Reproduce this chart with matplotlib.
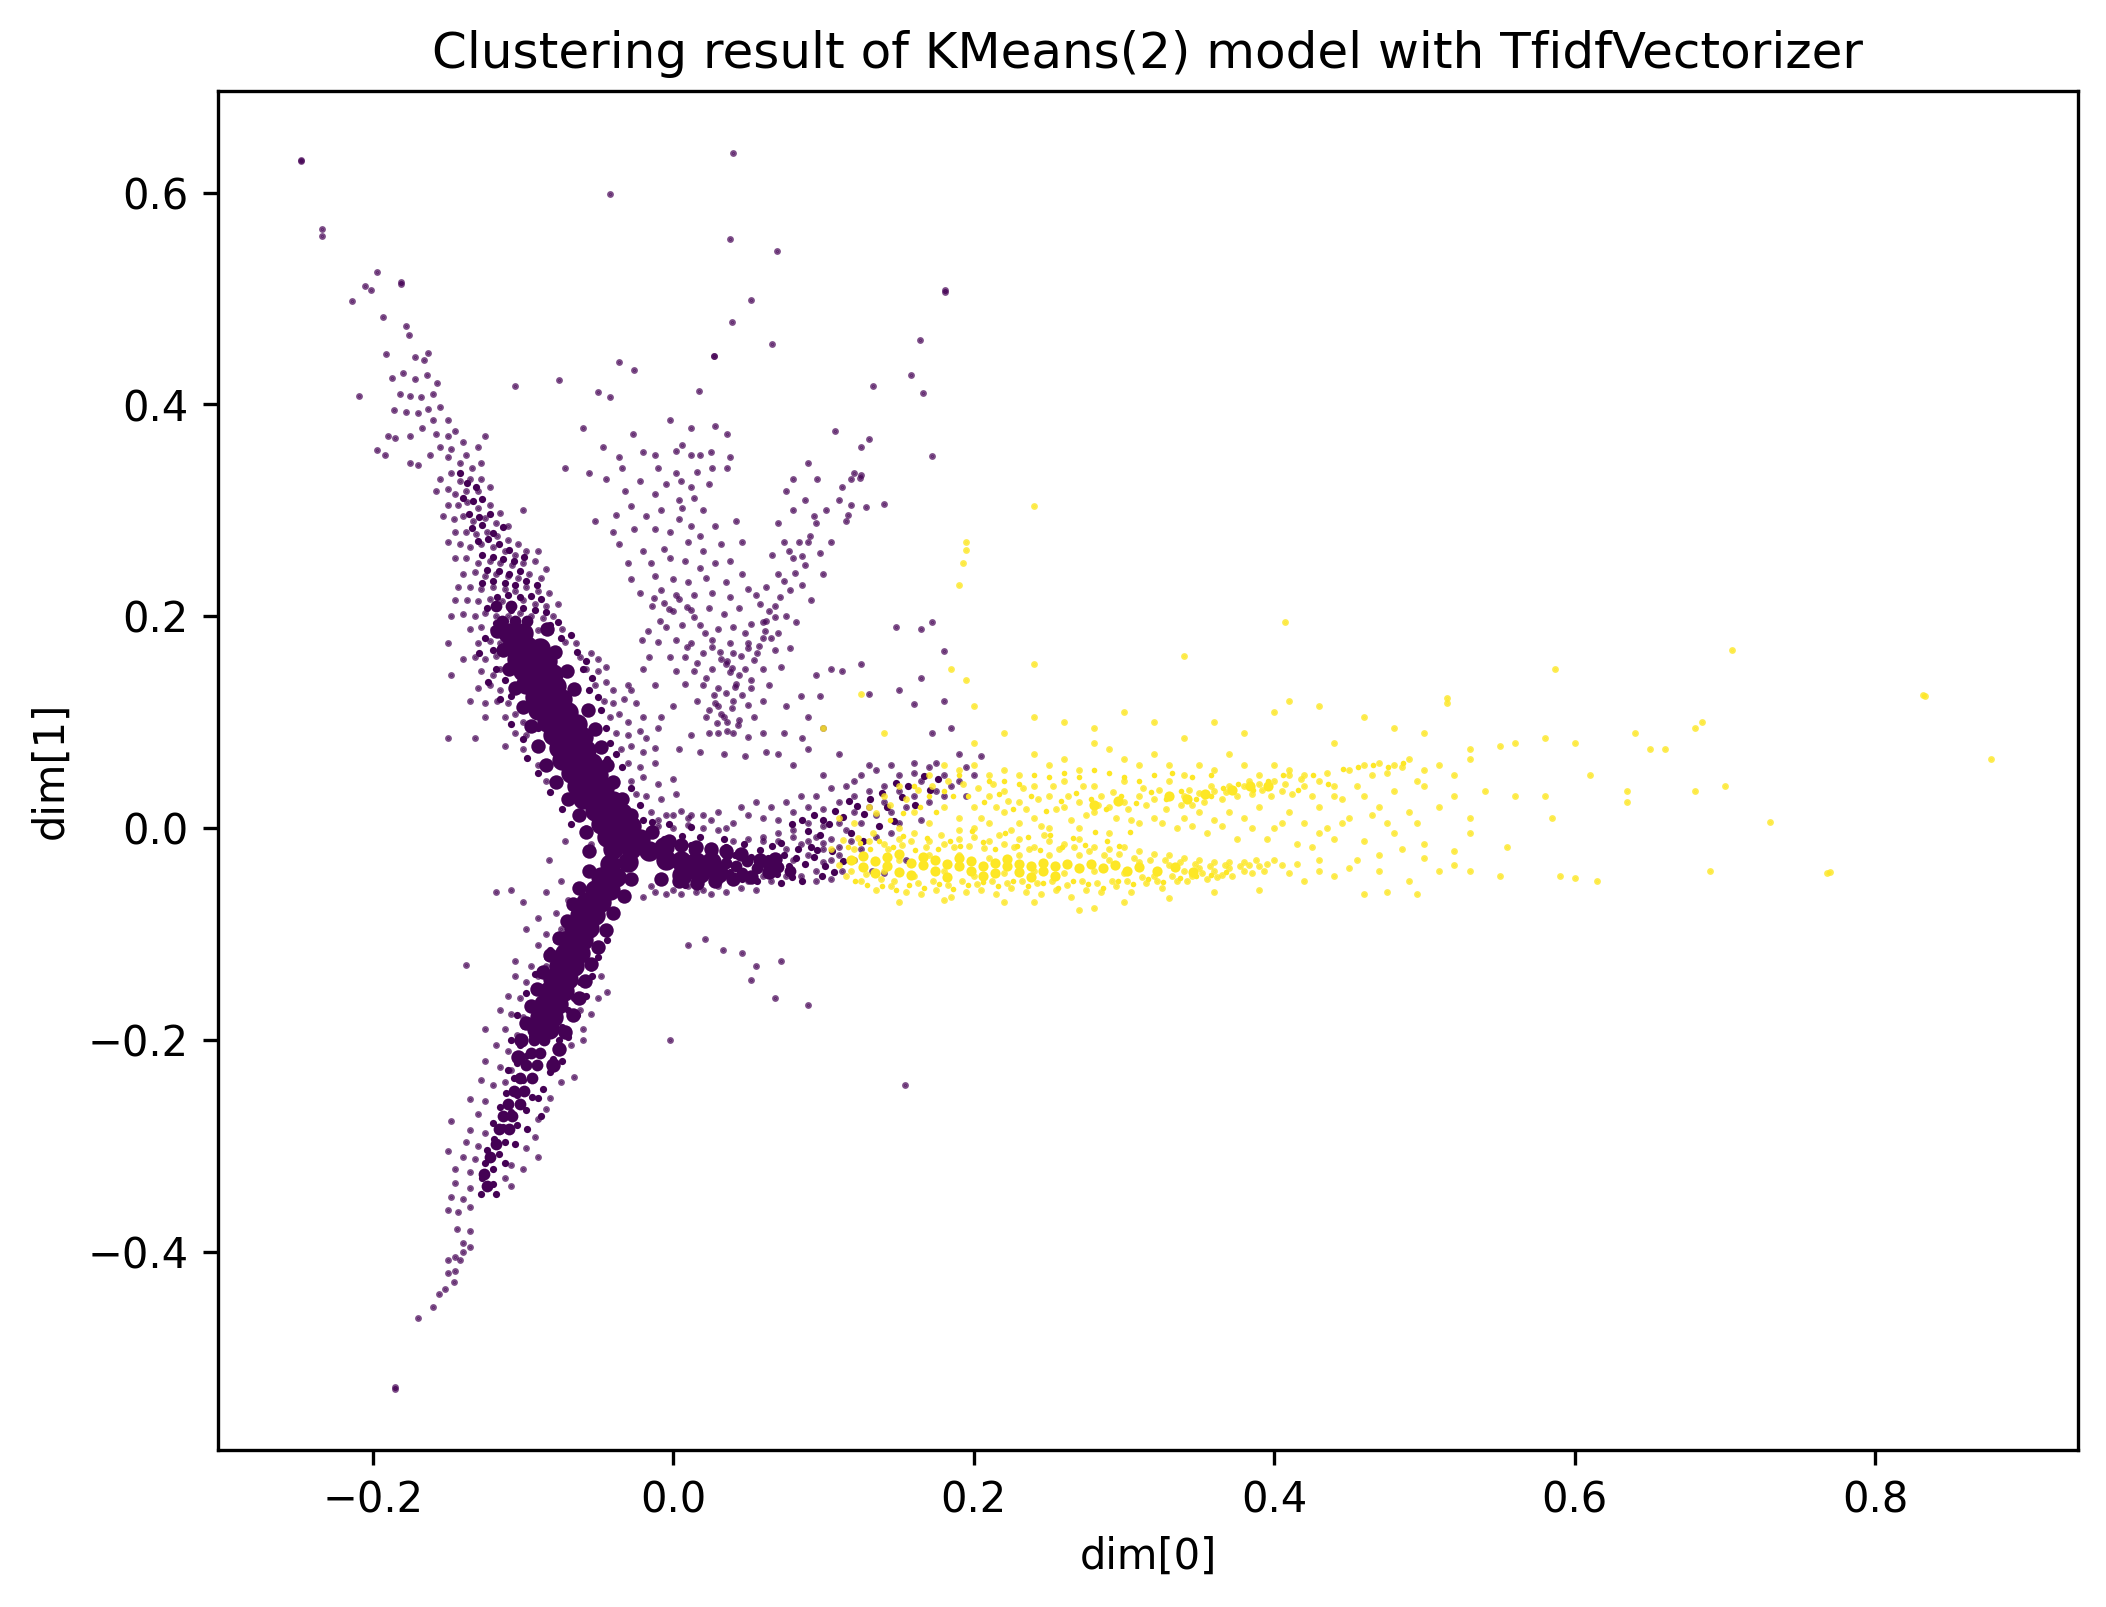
import numpy as np
import matplotlib.pyplot as plt

# points, (dim0, dim1)
outliers = [(-.2475,.631),(-.2475,.630),(-.234,.566),(-.234,.559),(.040,.637),(-.042,.599),(.038,.556),(.069,.545),
    (-.197,.525),(-.181,.516),(-.181,.514),(.181,.508),(.181,.506),(.052,.499),(-.214,.498),(-.201,.508),(-.205,.512),
    (-.193,.483),(-.178,.474),(-.176,.466),(.039,.478),(.066,.457),(.164,.461),(.027,.446),(.158,.428),(-.036,.44),
    (-.026,.433),(.133,.417),(-.105,.417),(-.076,.423),(.017,.413),(-.05,.412),(-.042,.407),(-.209,.408),(.166,.411),
    (-.197,.357),(.172,.351),(-.185,-.528),(-.185,-.529),(.154,-.242),(-.002,-.2),(.09,-.167),(.068,-.16),(-.138,-.129),
    (.055,-.13),(.046,-.118),(.033,-.115),(.021,-.105),(.052,-.143),(.01,-.11),(.072,-.125),(-.15,.085),(-.132,.085)]

upper_top = [(-.191,.448),(-.172,.445),(-.163,.449),(-.166,.442),(-.18,.43),(-.187,.425),(-.172,.424),(-.164,.428),
    (-.157,.42),(-.182,.41),(-.175,.408),(-.168,.407),(-.16,.41),(-.186,.395),(-.178,.393),(-.17,.392),(-.163,.396),
    (-.155,.398),(-.15,.385),(-.16,.385),(-.167,.378),(-.175,.37),(-.185,.368),(-.19,.37),(-.158,.372),(-.15,.37),
    (-.145,.375),(-.14,.365),(-.155,.36),(-.148,.358),(-.162,.352),(-.175,.345),(-.17,.343),(-.192,.352),(-.125,.37),
    (-.15,.35),(-.142,.345),(-.138,.352),(-.13,.36),(-.134,.34),(-.128,.345),(-.148,.335),(-.155,.33),(-.142,.328),
    (-.135,.33),(-.128,.33),(-.15,.32),(-.158,.318),(-.145,.315),(-.138,.318),(-.13,.318),(-.122,.322),(-.15,.305),
    (-.143,.305),(-.137,.308),(-.13,.302),(-.122,.305),(-.115,.298),(-.153,.295),(-.146,.292),(-.14,.295),(-.133,.29),
    (-.125,.293),(-.118,.288),(-.11,.285),(-.1,.3),(-.145,.28),(-.138,.28),(-.131,.278),(-.124,.28),(-.117,.276),
    (-.11,.272),(-.103,.268),(-.15,.27),(-.142,.268),(-.135,.265),(-.128,.268),(-.12,.265),(-.112,.262),(-.105,.258),
    (-.098,.262),(-.09,.262),(-.145,.255),(-.138,.255),(-.13,.25),(-.122,.252),(-.115,.25),(-.107,.248),(-.1,.25),
    (-.092,.252),(-.085,.245),(-.14,.24),(-.132,.242),(-.125,.238),(-.118,.24),(-.11,.238),(-.103,.236),(-.096,.24),
    (-.088,.236),(-.143,.228),(-.135,.228),(-.128,.226),(-.12,.228),(-.112,.226),(-.105,.224),(-.098,.228),
    (-.09,.224),(-.083,.222),(-.145,.215),(-.137,.215),(-.13,.214),(-.122,.216),(-.114,.214),(-.107,.212),(-.1,.215),
    (-.092,.212),(-.085,.21),(-.077,.212),(-.148,.2),(-.14,.202),(-.132,.2),(-.125,.203),(-.118,.2),(-.11,.2),
    (-.102,.203),(-.095,.2),(-.087,.198),(-.08,.2),(-.135,.188),(-.128,.19),(-.12,.188),(-.113,.19),
    (-.105,.19),(-.097,.188),(-.09,.187),(-.082,.186),(-.074,.188),(-.15,.175),(-.13,.175),(-.122,.177),
    (-.115,.175),(-.072,.176),(-.065,.175)]

upper_sides = [(-.14,.16),(-.132,.162),(-.125,.16),(-.118,.163),(-.062,.162),(-.055,.165),(-.05,.16),(-.148,.145),
    (-.128,.148),(-.12,.145),(-.115,.15),(-.058,.15),(-.05,.148),(-.045,.152),(-.13,.132),(-.122,.135),(-.115,.13),
    (-.052,.135),(-.045,.138),(-.04,.13),(-.03,.135),(-.135,.12),(-.125,.118),(-.117,.12),(-.11,.118),
    (-.046,.12),(-.04,.118),(-.033,.122),(-.025,.118),(-.125,.105),(-.112,.105),(-.105,.108),(-.1,.1),(-.042,.105),
    (-.036,.108),(-.03,.1),(-.02,.105),(-.105,.09),(-.098,.088),(-.038,.09),(-.03,.088),(-.022,.092),
    (-.112,.078),(-.1,.075),(-.035,.075),(-.028,.078),(-.02,.072),(-.012,.076),(-.09,.06),
    (-.03,.062),(-.022,.058),(-.012,.062),(-.085,.045),(-.078,.042),(-.028,.045),
    (-.02,.048),(-.01,.042),(.0,.046),(-.07,.03),(-.025,.032),(-.018,.03),(-.008,.028),
    (.002,.032),(-.062,.015),(-.015,.015),(-.005,.012),(.005,.016),(.012,.012),(-.058,.0),
    (-.01,.002),(.0,.0),(.01,.003),(.02,.0),(-.072,-.012),(-.055,-.015),(.025,.008),(.03,-.002)]

# the open cloud above the right arm
cloud = [(.027,.446),(-.002,.385),(.012,.378),(-.027,.372),(.028,.38),(.006,.362),(.018,.352),(.036,.372),(-.036,.35),
    (-.02,.355),(-.012,.352),(.002,.356),(.012,.352),(.025,.355),(.038,.35),(-.06,.378),(-.047,.36),(-.072,.34),
    (-.056,.335),(-.034,.34),(-.01,.34),(.002,.335),(.016,.336),(.026,.34),(.036,.34),(-.045,.33),(-.022,.328),
    (-.005,.325),(.005,.328),(.012,.322),(.024,.325),(-.032,.318),(-.028,.304),(-.012,.315),(.004,.31),(.014,.312),
    (.02,.3),(.006,.302),(-.008,.3),(-.018,.295),(-.038,.296),(-.052,.29),(-.04,.28),(-.026,.282),(-.012,.282),
    (-.002,.28),(.004,.292),(.012,.285),(.018,.276),(.028,.285),(.042,.29),(-.036,.268),(-.02,.262),(-.006,.264),
    (.01,.27),(.02,.262),(.032,.268),(.046,.27),(-.03,.25),(-.015,.25),(-.002,.255),(.008,.252),(.018,.246),
    (.028,.25),(.038,.252),(-.028,.235),(-.012,.238),(.0,.235),(.01,.232),(.022,.236),(.035,.232),(.046,.24),
    (-.022,.222),(-.008,.225),(.002,.22),(.014,.22),(.026,.222),(.038,.218),(.05,.226),(-.014,.21),(.0,.205),
    (.012,.206),(.024,.208),(.034,.202),(.044,.208),(.058,.212),(-.005,.19),(.006,.192),(.018,.192),(.03,.188),
    (.04,.19),(.052,.193),(.062,.196),(-.01,.176),(.002,.178),(.012,.175),(.026,.178),(.038,.175),(.05,.175),
    (.06,.18),(.07,.184),(-.002,.162),(.008,.162),(.02,.165),(.032,.16),(.045,.163),(.056,.165),(.068,.168),
    (.078,.17),(.002,.148),(.014,.148),(.026,.15),(.038,.147),(.048,.15),(.06,.15),(.072,.152),(.008,.136),
    (.02,.135),(.03,.132),(.042,.136),(.052,.132),(.064,.135),(.016,.12),(.028,.118),(.04,.12),(.05,.116),
    (.06,.12),(.022,.105),(.034,.105),(.044,.102),(.054,.105),(.03,.09),(.04,.09),(.05,.086),(.012,.088),(-.01,.095),
    (.004,.075),(.018,.072),(.034,.07),(.048,.068),(.062,.072),(.074,.09),(.086,.085),(.09,.105),(.075,.115),
    (.098,.125),(.105,.15),(.112,.148),(.125,.155),(.13,.127),(.15,.13),(.16,.117),(.172,.09),(.185,.095),
    (.19,.07),(.2,.05),(.205,.068),(.18,.12),(.165,.142),(.148,.19),(.165,.188),(.172,.195),(.18,.167),
    (.09,.27),(.095,.288),(.102,.3),(.11,.31),(.118,.33),(.125,.333),(.125,.36),(.13,.367),(.108,.375),(.118,.305),
    (.128,.303),(.14,.306),(.115,.29),(.105,.27),(.098,.26),(.088,.248),(.08,.255),(.07,.24),(.078,.225),(.086,.23),
    (.092,.215),(.062,.228),(.068,.21),(.075,.2),(.082,.195),(.06,.195),(.065,.18),(.052,.14),(.09,.345),(.08,.33),
    (.075,.318),(.096,.33),(.07,.288),(.08,.3),(.088,.31),(.094,.295),(.074,.27),(.084,.27),(.066,.258),(.1,.24),
    (.055,.22),(.04,.165),(.03,.115),(.036,.1),(.024,.09),(.05,.17),(.035,.155),(.022,.142),(-.02,.15),(-.028,.13),
    (-.012,.135),(.0,.115),(-.008,.105),(-.018,.085),(.06,.09),(.07,.07),(.08,.06),(.09,.075),(.1,.05),(.11,.07),
    (.12,.045),(.13,.06),(.095,.145),(.085,.125),(.1,.095)]

# tight clumps inside the cloud
cloud_clumps = [(-.013,.217),(-.006,.213),(-.003,.207),(.004,.216),(.009,.209),(-.009,.196),(.014,.199),(-.017,.186),
    (.021,.184),(.026,.171),(.031,.166),(.036,.158),(.039,.151),(.044,.145),(.041,.133),(.035,.128),(.027,.126),
    (.024,.112),(.032,.108),(.039,.113),(.046,.126),(.054,.159),(.057,.172),(.061,.186),(.064,.205),(.071,.218),
    (.068,.199),(.074,.233),(.081,.241),(.077,.262),(.086,.257),(.091,.276),(.112,.322),(.12,.335),(.124,.331),
    (.116,.296),(.029,.099),(.036,.092),(.043,.097),(.016,.156),(.009,.171),(-.021,.178),(-.016,.162),(.048,.184)]

# right arm, above and below the solid part
right_arm = [(.03,.015),(.04,.005),(.05,.012),(.06,.01),(.07,.008),(.08,.015),(.09,.02),(.1,.018),(.11,.025),(.12,.03),
    (.13,.035),(.14,.04),(.15,.05),(.16,.052),(.17,.058),(.165,.045),(.18,.05),(.185,.04),(.175,.035),(.16,.03),
    (.15,.035),(.14,.025),(.13,.02),(.12,.015),(.11,.005),(.1,.002),(.09,.005),(.08,-.002),(.07,-.005),(.06,-.008),
    (.05,-.01),(.04,-.012),(.035,.0),(.095,-.008),(.085,-.015),(.075,-.02),(.105,-.01),(.115,-.002),(.125,.005),
    (.135,.012),(.145,.015),(.155,.02),(.17,.025),(.18,.03),(.19,.045),(.195,.03),(.07,-.03),(.08,-.03),(.09,-.025),
    (.1,-.02),(.105,-.03),(.095,-.04),(.085,-.045),(.075,-.045),(.065,-.05),(.055,-.058),(.045,-.056),(.035,-.06),
    (.025,-.062),(.015,-.06),(.005,-.062),(-.005,-.062),(-.012,-.06),(-.02,-.065),(.095,-.05),(.105,-.048),(.1,-.032),
    (.11,-.025),(.112,-.04),(.06,-.012),(.07,-.012),(.08,-.008),(.09,-.012),(.1,-.014),(.11,-.018),(.118,-.012),
    (.125,-.02),(.135,-.008),(.145,-.005),(.12,-.03),(.132,-.04),(.14,-.042),(.155,-.03),(.15,.005),(.165,.008),
    (.065,.02),(.055,.025),(.045,.02),(.075,.025),(.085,.03),(.095,.03),(.105,.038),(.115,.04),(.125,.05),(.135,.055),
    (.145,.06),(.16,.062),(.175,.062),(.195,.058),(-.015,-.055),(.0,-.058),(.01,-.055),(.02,-.058),(.03,-.055),
    (.04,-.05),(.05,-.05),(.06,-.045),(-.01,.008),(.0,.012),(.01,.01),(.02,.012)]

right_arm_mottled = [(.035,-.018),(.047,-.015),(.058,-.021),(.066,-.017),(.074,-.025),(.083,-.02),(.088,-.034),(.094,-.027),
    (.101,-.036),(.077,-.036),(.069,-.043),(.092,-.018),(.098,-.006),(.104,.004),(.113,.011),(.122,.021),(.131,.028),
    (.139,.033),(.148,.043),(.156,.04),(.167,.049),(.176,.046),(.086,.008),(.079,.004),(.094,.012),(.108,.016),(.046,-.048),
    (.03,-.048),(.016,-.05),(.002,-.05),(-.008,-.05),(.056,-.05),(.063,-.028),(.041,-.025),(.024,-.018),(.012,-.016),
    (.0,-.014),(-.006,-.01),(.106,-.022),(.099,-.045),(.086,-.05),(.072,-.052),(.052,-.027),(.062,-.041),(.082,-.028),
    (.072,-.014),(.09,-.003),(.1,.008),(.117,.026),(.127,.013),(.142,.02),(.152,.029),(.161,.022),(.171,.036),(.107,-.041),
    (.113,-.031),(.096,-.021),(.079,-.046),(.051,-.044),(.038,-.041),(.02,-.046),(.008,-.054),(.034,-.01),(.018,-.008),
    (.006,-.007),(-.014,.0),(-.003,.004),(.012,.001),(-.02,.008),(.118,-.005),(.126,-.012),(.137,.002),(.147,.007)]

lower_arm = [(-.118,-.06),(-.108,-.058),(-.1,-.07),(-.083,-.03),(-.075,-.05),(-.085,-.06),(-.07,-.068),(-.078,-.08),
    (-.09,-.085),(-.098,-.095),(-.085,-.1),(-.075,-.095),(-.08,-.118),(-.09,-.11),(-.105,-.125),(-.095,-.13),
    (-.085,-.13),(-.105,-.14),(-.098,-.145),(-.09,-.14),(-.055,-.132),(-.048,-.14),(-.044,-.155),
    (-.05,-.16),(-.055,-.175),(-.06,-.19),(-.062,-.172),(-.11,-.158),(-.102,-.16),(-.115,-.172),
    (-.108,-.175),(-.1,-.178),(-.125,-.19),(-.112,-.19),(-.104,-.195),(-.06,-.2),(-.068,-.205),(-.118,-.205),
    (-.11,-.21),(-.125,-.22),(-.115,-.225),(-.108,-.228),(-.066,-.235),(-.128,-.238),(-.12,-.242),(-.112,-.24),
    (-.075,-.24),(-.082,-.255),(-.135,-.256),(-.125,-.258),(-.085,-.265),(-.13,-.27),(-.09,-.275),
    (-.148,-.276),(-.135,-.285),(-.125,-.288),(-.092,-.292),(-.138,-.296),(-.13,-.3),(-.098,-.302),(-.09,-.31),
    (-.15,-.305),(-.14,-.31),(-.132,-.312),(-.108,-.318),(-.1,-.322),(-.145,-.322),(-.135,-.325),(-.112,-.33),
    (-.145,-.335),(-.135,-.34),(-.108,-.338),(-.148,-.348),(-.14,-.35),(-.15,-.36),(-.143,-.362),(-.135,-.358),
    (-.144,-.378),(-.135,-.38),(-.14,-.392),(-.135,-.395),(-.15,-.408),(-.145,-.405),(-.15,-.42),(-.145,-.418),
    (-.152,-.435),(-.146,-.428),(-.156,-.44),(-.16,-.452),(-.17,-.462),(-.14,-.4),(-.142,-.408)]

# speckled stretches of the arms, many marks overlapping
mottled = [(-.142,.335),(-.137,.326),(-.131,.322),(-.14,.312),(-.133,.309),(-.127,.311),(-.136,.297),(-.129,.294),
    (-.122,.297),(-.134,.283),(-.127,.286),(-.12,.279),(-.113,.284),(-.13,.271),(-.123,.273),(-.116,.268),(-.109,.263),
    (-.127,.258),(-.12,.256),(-.113,.254),(-.106,.252),(-.099,.256),(-.124,.244),(-.116,.243),(-.109,.24),(-.102,.243),
    (-.127,.231),(-.12,.233),(-.112,.231),(-.105,.23),(-.098,.233),(-.091,.23),(-.117,.218),(-.11,.22),(-.102,.218),
    (-.095,.219),(-.088,.216),(-.124,.208),(-.108,.206),(-.1,.208),(-.092,.206),(-.085,.204),(-.118,.194),(-.112,.196),
    (-.082,.192),(-.077,.195),(-.075,.18),(-.068,.182),(-.125,.18),(-.12,.168),(-.064,.166),(-.058,.158),(-.112,.14),
    (-.108,.125),(-.1,.112),(-.09,.095),(-.048,.112),(-.045,.095),(-.042,.08),(-.129,.165),(-.118,.15),(-.123,.138),
    (-.115,.122),(-.108,.098),(-.1,.084),(-.097,.066),(-.09,.052),(-.082,.034),(-.074,.018),(-.068,.004),(-.056,.13),
    (-.05,.124),(-.054,.142),(-.06,.15),(-.038,.07),(-.034,.058),(-.028,.038),(-.022,.022),(-.014,.006),(-.044,.065),
    (-.082,-.115),(-.078,-.128),(-.087,-.137),(-.08,-.142),(-.091,-.15),(-.085,-.158),(-.096,-.166),(-.062,-.145),
    (-.066,-.16),(-.07,-.172),(-.074,-.188),(-.099,-.187),(-.094,-.196),(-.102,-.205),(-.076,-.2),(-.098,-.215),(-.08,-.218),
    (-.104,-.222),(-.082,-.23),(-.106,-.236),(-.1,-.238),(-.087,-.246),(-.111,-.25),(-.104,-.252),(-.094,-.254),(-.115,-.263),
    (-.108,-.268),(-.098,-.266),(-.12,-.278),(-.113,-.282),(-.104,-.28),(-.097,-.284),(-.119,-.293),(-.112,-.296),(-.105,-.298),
    (-.124,-.304),(-.116,-.308),(-.125,-.316),(-.12,-.322),(-.112,-.316),(-.127,-.33),(-.12,-.336),(-.128,-.345),
    (-.118,-.345),(-.122,-.312),(-.074,-.22),(-.07,-.197),(-.064,-.176),(-.058,-.158),(-.054,-.14),(-.05,-.122),(-.044,-.106),
    (-.078,-.106),(-.084,-.122),(-.092,-.138),(-.098,-.156),(-.104,-.176),(-.108,-.2),(-.11,-.228),(-.088,-.272),(-.09,-.255)]

# solid parts of the arms, too dense to tell single points apart
arm_fill = [(-.04,-.02),(-.028,-.02),(-.016,-.022),(-.044,-.008),(-.032,-.008),(-.022,-.01),(-.048,.004),(-.038,.004),
    (-.028,.002),(-.052,.016),(-.042,.016),(-.034,.014),(-.06,.028),(-.05,.028),(-.04,.026),(-.064,.04),(-.054,.04),(-.046,.038),
    (-.068,.052),(-.058,.052),(-.05,.05),(-.074,.064),(-.064,.064),(-.054,.062),(-.076,.076),(-.066,.076),(-.058,.074),
    (-.08,.088),(-.07,.088),(-.06,.086),(-.084,.1),(-.074,.1),(-.064,.098),(-.09,.112),(-.08,.112),(-.07,.11),
    (-.092,.124),(-.082,.124),(-.074,.122),(-.098,.136),(-.088,.136),(-.078,.134),(-.1,.148),(-.09,.148),(-.08,.146),
    (-.104,.16),(-.094,.16),(-.084,.158),(-.107,.172),(-.097,.172),(-.089,.17),(-.11,.184),(-.1,.184),
    (-.042,-.034),(-.03,-.032),(-.048,-.046),(-.038,-.046),(-.052,-.058),(-.042,-.058),(-.058,-.07),(-.048,-.07),
    (-.062,-.082),(-.052,-.082),(-.066,-.094),(-.056,-.094),(-.07,-.106),(-.06,-.106),(-.072,-.118),(-.062,-.118),
    (-.076,-.13),(-.066,-.13),(-.08,-.142),(-.07,-.142),(-.083,-.154),(-.073,-.154),(-.086,-.166),(-.077,-.166),
    (-.089,-.178),(-.08,-.178),(-.091,-.19),(-.083,-.19),
    (-.005,-.03),(.005,-.031),(.015,-.032),(.025,-.032),(-.006,-.018),(.006,-.044),(.018,-.042),(.03,-.042)]

# the same arms, their outer edges
arm_edge = [(-.117,.186),(-.084,.188),(-.113,.168),(-.079,.166),(-.109,.15),(-.071,.148),(-.105,.132),(-.066,.131),
    (-.1,.114),(-.057,.112),(-.095,.096),(-.052,.094),(-.09,.078),(-.048,.077),(-.085,.06),(-.044,.06),(-.078,.044),
    (-.04,.044),(-.07,.028),(-.034,.028),(-.063,.012),(-.028,.012),(-.058,-.004),(-.014,-.004),(-.056,-.022),(-.003,-.012),
    (-.056,-.04),(-.028,-.048),(-.063,-.056),(-.033,-.064),(-.067,-.072),(-.04,-.08),(-.071,-.088),(-.045,-.096),
    (-.076,-.104),(-.05,-.112),(-.082,-.12),(-.055,-.128),(-.087,-.136),(-.059,-.144),(-.091,-.152),(-.063,-.16),
    (-.095,-.168),(-.067,-.176),(-.098,-.184),(-.072,-.192),(-.101,-.2),(-.076,-.208),(-.103,-.216),(-.08,-.224),
    (.005,-.016),(.015,-.018),(.025,-.02),(.035,-.022),(.045,-.024),(-.008,-.048),(.004,-.05),(.016,-.052),(.028,-.05),
    (.04,-.048),(.052,-.046),(.058,-.03),(.068,-.029),(.064,-.041)]

core_small = [(.035,-.033),(.042,-.036),(.049,-.031),(.056,-.038),(.063,-.035),(.07,-.037),(.078,-.04),(.036,-.024),
    (.046,-.042),(.026,-.022),(.014,-.021),(-.114,.196),(-.105,.196),(-.097,.196),(-.118,.21),(-.108,.21),
    (-.093,-.2),(-.086,-.2),(-.095,-.212),(-.089,-.212),(-.098,-.224),(-.091,-.224),(-.102,-.236),(-.094,-.236),
    (-.106,-.248),(-.099,-.248),(-.11,-.26),(-.102,-.26),(-.113,-.272),(-.107,-.272),(-.116,-.284),(-.109,-.284),
    (-.118,-.298),(-.122,-.31),(-.126,-.326),(-.124,-.338)]

yellow_band_low = [(.105,-.02),(.11,-.035),(.115,-.045),(.12,-.02),(.125,-.05),(.13,-.012),(.135,-.058),(.14,-.015),(.145,-.055),
    (.15,-.01),(.155,-.06),(.16,-.005),(.165,-.062),(.17,-.012),(.175,-.058),(.18,-.015),(.185,-.065),(.19,-.01),(.195,-.06),
    (.2,-.008),(.205,-.058),(.21,-.012),(.215,-.062),(.22,-.015),(.225,-.056),(.23,-.01),(.235,-.06),(.24,-.018),(.245,-.062),
    (.25,-.012),(.255,-.058),(.26,-.015),(.265,-.065),(.27,-.01),(.275,-.058),(.28,-.018),(.285,-.06),(.29,-.02),(.295,-.055),
    (.3,-.018),(.305,-.06),(.31,-.022),(.315,-.052),(.32,-.024),(.325,-.056),(.33,-.025),(.335,-.05),(.34,-.028),(.345,-.045),
    (.35,-.03),(.355,-.048),(.36,-.032),(.365,-.044),(.37,-.038),(.38,-.032),(.385,-.042),(.39,-.036),(.4,-.03),(.41,-.042),
    (.42,-.05),(.43,-.04),(.44,-.045),(.45,-.038),(.46,-.062),(.47,-.04),(.475,-.06),(.49,-.05),(.495,-.062),(.51,-.04),
    (.52,-.035),(.53,-.04),(.55,-.045),(.59,-.045),(.6,-.047),(.615,-.05),(.69,-.04),(.768,-.042),(.77,-.041),
    (.27,-.077),(.18,-.068),(.24,-.07),(.3,-.07),(.33,-.066),(.36,-.06),(.39,-.058),(.28,-.075),(.22,-.07),(.15,-.07),
    (.12,-.03),(.14,-.04),(.15,-.03),(.16,-.045),(.17,-.025),(.18,-.04),(.19,-.025),(.2,-.045),(.21,-.028),(.22,-.042),
    (.23,-.025),(.24,-.04),(.25,-.025),(.26,-.042),(.27,-.025),(.28,-.04),(.29,-.03),(.3,-.042),(.31,-.032),(.32,-.045),
    (.33,-.035),(.34,-.04),(.35,-.038),(.36,-.04),(.37,-.032),(.38,-.04),(.395,-.034),(.405,-.035),(.415,-.034),(.43,-.03),
    (.455,-.03),(.47,-.025),(.485,-.02),(.5,-.028)]

yellow_band_high = [(.11,.01),(.12,.005),(.13,.02),(.14,.03),(.15,.04),(.17,.05),(.18,.06),(.19,.055),(.2,.06),(.21,.05),
    (.22,.055),(.23,.05),(.24,.07),(.25,.06),(.26,.065),(.27,.055),(.28,.08),(.29,.075),(.3,.065),(.31,.06),(.32,.07),
    (.33,.06),(.34,.05),(.35,.06),(.36,.055),(.37,.07),(.38,.06),(.39,.05),(.4,.06),(.41,.055),(.42,.05),(.43,.045),
    (.44,.04),(.45,.055),(.46,.06),(.47,.062),(.48,.06),(.49,.065),(.5,.055),(.51,.06),(.52,.05),(.53,.075),(.55,.078),
    (.19,.01),(.2,.02),(.21,.005),(.22,.015),(.23,.025),(.24,.01),(.25,.03),(.255,.018),(.26,.02),(.27,.025),(.28,.015),
    (.285,.03),(.29,.02),(.3,.025),(.31,.03),(.315,.022),(.32,.028),(.33,.03),(.34,.03),(.345,.022),(.35,.033),(.36,.035),
    (.365,.028),(.37,.04),(.38,.04),(.385,.032),(.39,.042),(.4,.045),(.405,.035),(.41,.05),(.42,.04),(.43,.02),(.44,.03),
    (.45,.01),(.46,.03),(.47,.02),(.48,.035),(.49,.015),(.5,.04),(.51,.02),(.52,.03),(.53,.01),(.54,.035),
    (.2,.08),(.22,.09),(.24,.105),(.26,.1),(.28,.095),(.3,.11),(.32,.1),(.34,.085),(.36,.1),(.38,.09),(.4,.11),(.41,.12),
    (.43,.115),(.44,.08),(.46,.105),(.48,.095),(.5,.09),(.515,.123),(.515,.118),(.53,.065),(.56,.08),(.58,.085),(.6,.08),
    (.58,.03),(.61,.05),(.635,.035),(.64,.09),(.65,.075),(.66,.075),(.68,.095),(.685,.1),(.68,.035),(.7,.04),
    (.15,.0),(.16,.015),(.17,.005),(.18,.02),(.19,-.002),(.2,.0),(.21,.03),(.22,.035),(.23,.005),(.24,.04),(.25,.0),
    (.26,.045),(.27,.0),(.28,.04),(.29,-.005),(.3,.045),(.31,.005),(.32,.01),(.33,.045),(.34,.01),(.35,.015),(.36,.008),
    (.37,.015),(.38,.01),(.39,.02),(.4,.0),(.41,.015),(.42,.005),(.43,-.005),(.44,-.01),(.46,-.012),(.48,-.005),(.5,-.015),
    (.53,-.005),(.555,-.018),(.52,-.022),(.635,.025),(.585,.01),(.56,.03)]

# the two yellow bands are crowded
yellow_mid = [(.113,-.011),(.118,-.04),(.123,-.009),(.128,-.043),(.133,-.005),(.138,-.048),(.143,-.02),(.147,-.05),(.152,-.016),
    (.158,-.012),(.163,-.052),(.168,-.018),(.173,-.05),(.178,-.006),(.183,-.054),(.187,-.018),(.192,-.05),(.197,-.017),(.202,-.053),
    (.207,-.019),(.212,-.05),(.217,-.006),(.222,-.052),(.227,-.018),(.232,-.05),(.237,-.02),(.242,-.052),(.247,-.006),(.252,-.05),
    (.257,-.02),(.262,-.054),(.267,-.018),(.272,-.05),(.277,-.022),(.282,-.052),(.287,-.025),(.292,-.05),(.297,-.024),(.302,-.05),
    (.307,-.028),(.312,-.046),(.317,-.03),(.322,-.05),(.327,-.03),(.332,-.045),(.337,-.032),(.342,-.05),(.347,-.034),(.352,-.042),
    (.357,-.036),(.362,-.046),(.367,-.035),(.372,-.045),(.377,-.036),(.383,-.035),(.388,-.03),(.393,-.04),(.135,.014),(.144,.022),
    (.155,.028),(.163,.036),(.172,.04),(.183,.045),(.193,.042),(.203,.038),(.213,.042),(.223,.026),(.233,.038),(.243,.028),(.253,.04),
    (.263,.03),(.273,.04),(.283,.022),(.293,.034),(.303,.018),(.313,.038),(.323,.036),(.328,.018),(.338,.022),(.343,.036),(.353,.025),
    (.358,.04),(.368,.034),(.375,.03),(.383,.045),(.392,.036),(.398,.03),(.407,.042),(.412,.032),(.418,.046),(.425,.03),(.435,.052),
    (.445,.028),(.455,.04),(.465,.05),(.475,.052),(.485,.058),(.495,.045),(.205,.01),(.215,.02),(.225,-.002),(.235,.018),(.245,.002),
    (.265,.008),(.275,.012),(.295,.01),(.305,.008),(.325,.005),(.335,.0),(.345,.002),(.355,-.005),(.365,.002),(.375,-.01),(.385,.0),
    (.395,-.01),(.405,.005),(.415,-.015),(.425,-.018),(.435,.0),(.445,.005),(.465,.012),(.475,.005),(.495,.005)]

yellow_mottled = [(.116,-.018),(.124,-.014),(.131,-.02),(.137,-.012),(.146,-.018),(.153,-.007),(.161,-.021),(.169,-.009),(.176,-.02),
    (.184,-.012),(.191,-.017),(.199,-.003),(.206,-.013),(.214,-.02),(.221,-.005),(.229,-.017),(.236,-.008),(.244,-.021),(.251,-.006),
    (.259,-.018),(.266,-.009),(.274,-.016),(.281,-.004),(.289,-.012),(.297,-.017),(.304,-.004),(.121,-.05),(.129,-.054),(.139,-.055),
    (.148,-.058),(.157,-.054),(.167,-.056),(.177,-.053),(.186,-.057),(.196,-.054),(.206,-.051),(.216,-.055),(.226,-.05),(.236,-.055),
    (.246,-.052),(.256,-.056),(.266,-.05),(.276,-.053),(.286,-.056),(.296,-.05),(.306,-.053),(.316,-.048),(.326,-.051),(.337,-.047),
    (.348,-.045),(.358,-.044),(.368,-.041),(.144,.008),(.153,.014),(.164,.02),(.175,.015),(.186,.03),(.196,.03),(.207,.025),(.217,.032),
    (.226,.018),(.238,.03),(.248,.016),(.258,.026),(.268,.033),(.278,.028),(.288,.018),(.298,.03),(.308,.024),(.318,.034),(.328,.028),
    (.338,.035),(.348,.028),(.358,.03),(.366,.038),(.376,.042),(.386,.036),(.396,.045),(.406,.05),(.416,.036),(.426,.05),(.436,.042),
    (.446,.056),(.456,.058),(.466,.06),(.476,.058),(.486,.062),(.16,.04),(.17,.03),(.18,.035),(.19,.05),(.21,.045),(.22,.045),(.23,.042),
    (.24,.05),(.25,.048),(.26,.052),(.27,.048),(.28,.055),(.29,.052),(.3,.048),(.31,.045),(.32,.05),(.332,.052),(.345,.048),(.358,.05)]

yellow_outliers = [(.24,.304),(.195,.27),(.195,.263),(.193,.25),(.19,.23),(.24,.155),(.407,.195),(.34,.163),(.185,.15),
    (.195,.14),(.705,.168),(.587,.15),(.125,.127),(.1,.095),(.832,.126),(.833,.125),(.877,.065),(.73,.006),(.14,.09),(.2,.115)]

yellow_core = [(.118,-.03),(.126,-.026),(.126,-.037),(.134,-.031),(.134,-.042),(.142,-.027),(.142,-.036),(.15,-.041),(.15,-.024),
    (.158,-.033),(.158,-.044),(.166,-.035),(.166,-.027),(.174,-.04),(.174,-.03),(.182,-.034),(.182,-.046),(.19,-.036),(.19,-.028),
    (.198,-.04),(.198,-.031),(.206,-.036),(.206,-.045),(.214,-.033),(.214,-.042),(.222,-.036),(.222,-.029),(.23,-.041),(.23,-.034),
    (.238,-.036),(.238,-.046),(.246,-.033),(.246,-.04),(.254,-.036),(.254,-.045),(.262,-.034),(.27,-.038),(.278,-.034),(.286,-.038),
    (.294,-.035),(.302,-.04),(.31,-.037),(.322,-.04),(.334,-.037),(.346,-.041),(.33,.03),(.342,.028),(.354,.032),(.372,.036),
    (.296,.026),(.28,.022),(.384,.04),(.396,.04)]

outliers = np.array(outliers)
purple = np.array(upper_top + upper_sides + cloud + cloud_clumps + right_arm + lower_arm)
mottled = np.array(mottled + right_arm_mottled)
yellow = np.array(yellow_band_low + yellow_band_high + yellow_mid + yellow_outliers)
yellow_mottled = np.array(yellow_mottled)
arm_fill = np.array(arm_fill)
arm_edge = np.array(arm_edge)
core_small = np.array(core_small)
yellow_core = np.array(yellow_core)

PURPLE = '#440154'
YELLOW = '#fde725'

fig = plt.figure(figsize=(7.02, 5.357), dpi=300)
ax = fig.add_axes([218 / 2106, 1 - 1450 / 1607, 1860 / 2106, 1359 / 1607])

ax.scatter(arm_fill[:, 0], arm_fill[:, 1], s=24, color=PURPLE, linewidths=0)
ax.scatter(arm_edge[:, 0], arm_edge[:, 1], s=12, color=PURPLE, linewidths=0)
ax.scatter(core_small[:, 0], core_small[:, 1], s=8, color=PURPLE, linewidths=0)
ax.scatter(mottled[:, 0], mottled[:, 1], s=3, color=PURPLE, linewidths=0)
ax.scatter(purple[:, 0], purple[:, 1], s=0.4, color=PURPLE, alpha=0.7)
ax.scatter(outliers[:, 0], outliers[:, 1], s=0.4, color=PURPLE, alpha=0.7)
ax.scatter(yellow_core[:, 0], yellow_core[:, 1], s=6, color=YELLOW, linewidths=0)
ax.scatter(yellow_mottled[:, 0], yellow_mottled[:, 1], s=1.8, color=YELLOW, linewidths=0)
ax.scatter(yellow[:, 0], yellow[:, 1], s=0.4, color=YELLOW, alpha=0.8)

ax.set_xlim(-0.303, 0.935)
ax.set_ylim(-0.587, 0.696)
ax.set_title('Clustering result of KMeans(2) model with TfidfVectorizer', pad=5.5)
ax.set_xlabel('dim[0]', labelpad=3.5)
ax.set_ylabel('dim[1]')

plt.savefig('out.png', dpi=300)
